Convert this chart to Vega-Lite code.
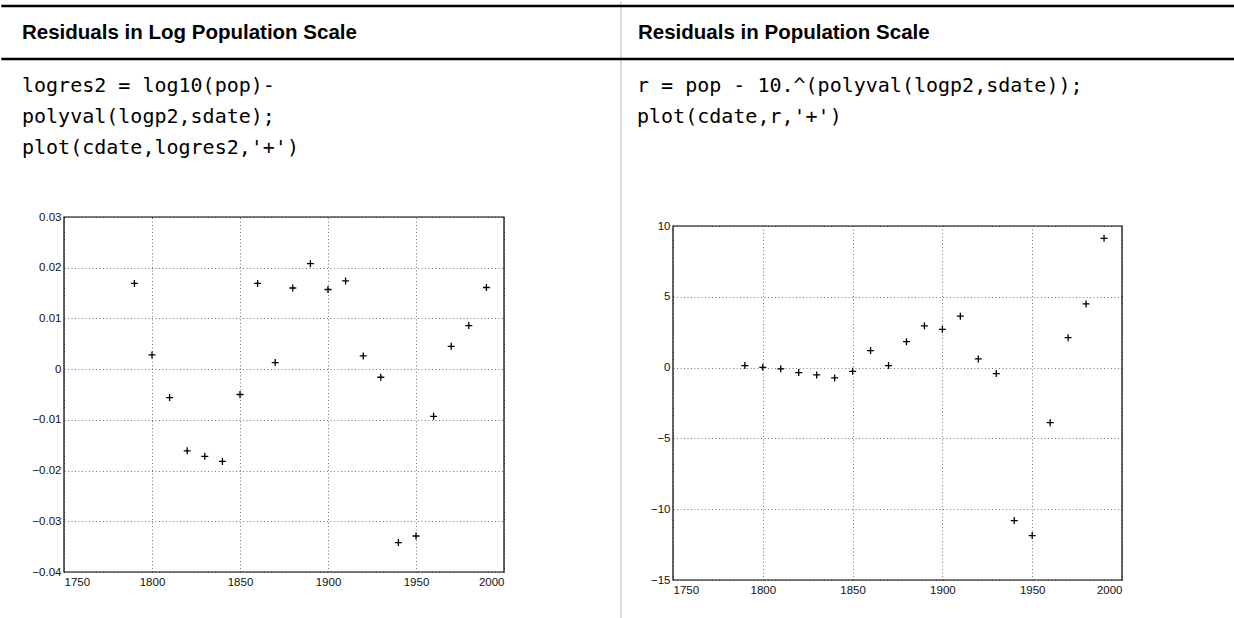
{
  "$schema": "https://vega.github.io/schema/vega-lite/v6.json",
  "padding": 0,
  "spacing": 0,
  "bounds": "flush",
  "background": "white",
  "config": {
    "view": {"stroke": null},
    "axis": {
      "labelFont": "Liberation Sans",
      "labelFontSize": 11.5,
      "labelColor": "#111",
      "domain": false,
      "ticks": false,
      "gridColor": "#555",
      "gridDash": [1, 2.5],
      "gridWidth": 0.8,
      "gridOpacity": 1
    }
  },
  "datasets": {
    "logres": [
      {"year": 1790, "residual": 0.0169},
      {"year": 1800, "residual": 0.0028},
      {"year": 1810, "residual": -0.0056},
      {"year": 1820, "residual": -0.0161},
      {"year": 1830, "residual": -0.0172},
      {"year": 1840, "residual": -0.0182},
      {"year": 1850, "residual": -0.0050},
      {"year": 1860, "residual": 0.0169},
      {"year": 1870, "residual": 0.0013},
      {"year": 1880, "residual": 0.0160},
      {"year": 1890, "residual": 0.0208},
      {"year": 1900, "residual": 0.0157},
      {"year": 1910, "residual": 0.0174},
      {"year": 1920, "residual": 0.0026},
      {"year": 1930, "residual": -0.0016},
      {"year": 1940, "residual": -0.0342},
      {"year": 1950, "residual": -0.0329},
      {"year": 1960, "residual": -0.0093},
      {"year": 1970, "residual": 0.0045},
      {"year": 1980, "residual": 0.0086},
      {"year": 1990, "residual": 0.0161}
    ],
    "res": [
      {"year": 1790, "residual": 0.14},
      {"year": 1800, "residual": 0.02},
      {"year": 1810, "residual": -0.09},
      {"year": 1820, "residual": -0.35},
      {"year": 1830, "residual": -0.52},
      {"year": 1840, "residual": -0.73},
      {"year": 1850, "residual": -0.26},
      {"year": 1860, "residual": 1.2},
      {"year": 1870, "residual": 0.14},
      {"year": 1880, "residual": 1.83},
      {"year": 1890, "residual": 2.95},
      {"year": 1900, "residual": 2.7},
      {"year": 1910, "residual": 3.63},
      {"year": 1920, "residual": 0.61},
      {"year": 1930, "residual": -0.42},
      {"year": 1940, "residual": -10.8},
      {"year": 1950, "residual": -11.86},
      {"year": 1960, "residual": -3.89},
      {"year": 1970, "residual": 2.11},
      {"year": 1980, "residual": 4.5},
      {"year": 1990, "residual": 9.13}
    ]
  },
  "hconcat": [
    {
      "width": 620,
      "height": 618,
      "layer": [
        {
          "data": {"values": [{}]},
          "mark": {"type": "rule", "color": "#000000", "strokeWidth": 2.5},
          "encoding": {"y": {"value": 6}, "x": {"value": 1.3}, "x2": {"value": 620}}
        },
        {
          "data": {"values": [{}]},
          "mark": {"type": "rule", "color": "#000000", "strokeWidth": 2.5},
          "encoding": {"y": {"value": 59}, "x": {"value": 1.3}, "x2": {"value": 620}}
        },
        {
          "data": {"values": [{}]},
          "mark": {"type": "text", "font": "Liberation Sans", "fontWeight": "bold", "fontSize": 20.5, "align": "left", "baseline": "alphabetic", "color": "#000"},
          "encoding": {"x": {"value": 22}, "y": {"value": 39}, "text": {"value": "Residuals in Log Population Scale"}}
        },
        {
          "data": {"values": [{}]},
          "mark": {"type": "text", "font": "DejaVu Sans Mono", "fontSize": 20, "lineHeight": 31, "align": "left", "baseline": "alphabetic", "color": "#000"},
          "encoding": {"x": {"value": 22}, "y": {"value": 92}, "text": {"value": ["logres2 = log10(pop)-", "polyval(logp2,sdate);", "plot(cdate,logres2,'+')"]}}
        },
        {
          "data": {"name": "logres"},
          "mark": {"type": "point", "shape": "M-1,0L1,0M0,-1L0,1", "filled": false, "stroke": "#000", "strokeWidth": 1.3, "size": 49, "opacity": 1},
          "encoding": {
            "x": {"field": "year", "type": "quantitative", "title": null,
              "scale": {"domain": [1750, 2000], "range": [64, 504], "nice": false, "zero": false},
              "axis": {"orient": "bottom", "offset": -46, "grid": false, "values": [1750, 1800, 1850, 1900, 1950, 2000], "labelPadding": 4, "format": "d"}},
            "y": {"field": "residual", "type": "quantitative", "title": null,
              "scale": {"domain": [-0.04, 0.03], "range": [572, 217], "nice": false, "zero": false},
              "axis": {"orient": "left", "offset": -64, "grid": true, "values": [-0.04, -0.03, -0.02, -0.01, 0, 0.01, 0.02, 0.03], "labelPadding": 3, "format": "~g"}}
          }
        },
        {
          "data": {"values": [{}]},
          "mark": {"type": "rect", "filled": false, "stroke": "#000", "strokeWidth": 1.2},
          "encoding": {
            "x": {"datum": 1750, "type": "quantitative", "title": null,
              "axis": {"orient": "top", "grid": true, "labels": false, "values": [1750, 1800, 1850, 1900, 1950, 2000]}},
            "x2": {"datum": 2000},
            "y": {"datum": -0.04, "type": "quantitative", "title": null},
            "y2": {"datum": 0.03}
          }
        }
      ]
    },
    {
      "width": 614,
      "height": 618,
      "layer": [
        {
          "data": {"values": [{}]},
          "mark": {"type": "rule", "color": "#dddddd", "strokeWidth": 2},
          "encoding": {"x": {"value": 1}, "y": {"value": 1}, "y2": {"value": 618}}
        },
        {
          "data": {"values": [{}]},
          "mark": {"type": "rule", "color": "#000000", "strokeWidth": 2.5},
          "encoding": {"y": {"value": 6}, "x": {"value": 0}, "x2": {"value": 614}}
        },
        {
          "data": {"values": [{}]},
          "mark": {"type": "rule", "color": "#000000", "strokeWidth": 2.5},
          "encoding": {"y": {"value": 59}, "x": {"value": 0}, "x2": {"value": 614}}
        },
        {
          "data": {"values": [{}]},
          "mark": {"type": "text", "font": "Liberation Sans", "fontWeight": "bold", "fontSize": 20.5, "align": "left", "baseline": "alphabetic", "color": "#000"},
          "encoding": {"x": {"value": 18}, "y": {"value": 39}, "text": {"value": "Residuals in Population Scale"}}
        },
        {
          "data": {"values": [{}]},
          "mark": {"type": "text", "font": "DejaVu Sans Mono", "fontSize": 20, "lineHeight": 31, "align": "left", "baseline": "alphabetic", "color": "#000"},
          "encoding": {"x": {"value": 17}, "y": {"value": 92}, "text": {"value": ["r =  pop - 10.^(polyval(logp2,sdate));", "plot(cdate,r,'+')"]}}
        },
        {
          "data": {"name": "res"},
          "mark": {"type": "point", "shape": "M-1,0L1,0M0,-1L0,1", "filled": false, "stroke": "#000", "strokeWidth": 1.3, "size": 49, "opacity": 1},
          "encoding": {
            "x": {"field": "year", "type": "quantitative", "title": null,
              "scale": {"domain": [1750, 2000], "range": [53, 502], "nice": false, "zero": false},
              "axis": {"orient": "bottom", "offset": -38, "grid": false, "values": [1750, 1800, 1850, 1900, 1950, 2000], "labelPadding": 4, "format": "d"}},
            "y": {"field": "residual", "type": "quantitative", "title": null,
              "scale": {"domain": [-15, 10], "range": [580, 226], "nice": false, "zero": false},
              "axis": {"orient": "left", "offset": -53, "grid": true, "values": [-15, -10, -5, 0, 5, 10], "labelPadding": 3}}
          }
        },
        {
          "data": {"values": [{}]},
          "mark": {"type": "rect", "filled": false, "stroke": "#000", "strokeWidth": 1.2},
          "encoding": {
            "x": {"datum": 1750, "type": "quantitative", "title": null,
              "axis": {"orient": "top", "grid": true, "labels": false, "values": [1750, 1800, 1850, 1900, 1950, 2000]}},
            "x2": {"datum": 2000},
            "y": {"datum": -15, "type": "quantitative", "title": null},
            "y2": {"datum": 10}
          }
        }
      ]
    }
  ]
}
